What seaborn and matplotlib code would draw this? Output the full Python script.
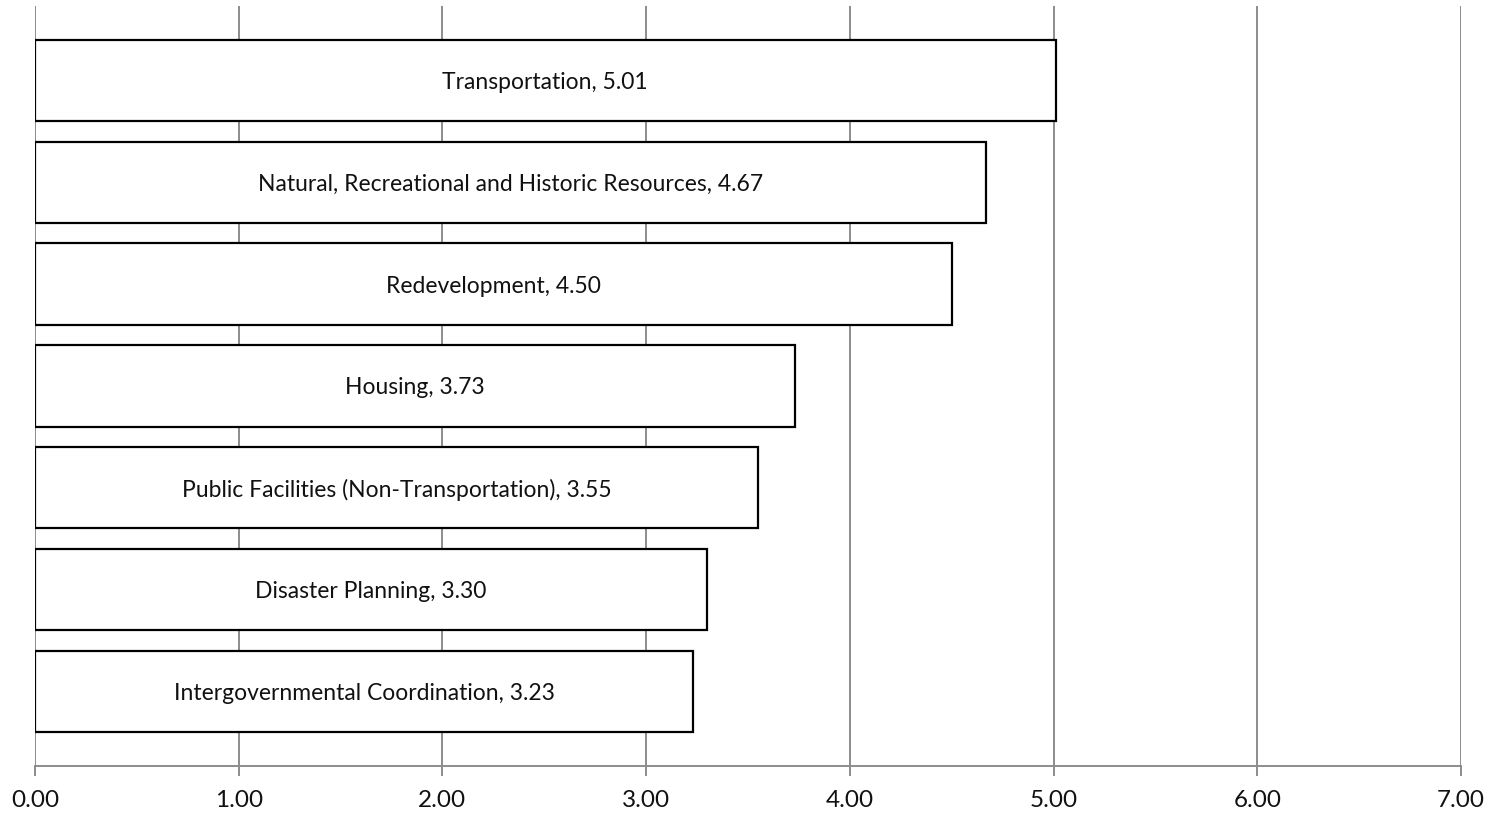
import matplotlib
matplotlib.use("Agg")
import matplotlib.pyplot as plt
import seaborn as sns
import pandas as pd

categories = [
    "Transportation",
    "Natural, Recreational and Historic Resources",
    "Redevelopment",
    "Housing",
    "Public Facilities (Non-Transportation)",
    "Disaster Planning",
    "Intergovernmental Coordination",
]
scores = [5.01, 4.67, 4.50, 3.73, 3.55, 3.30, 3.23]
x_ticks = [0, 1, 2, 3, 4, 5, 6, 7]

df = pd.DataFrame({"category": categories, "score": scores})

sns.set_theme(style="white")
plt.rcParams["font.family"] = ["Lato", "DejaVu Sans"]

W, H = 1493, 813
fig = plt.figure(figsize=(W / 100, H / 100), dpi=100)
ax = fig.add_axes([35 / W, (H - 766) / H, (1461 - 35) / W, (766 - 6) / H])

grid_color = "#8c8c8c"
for t in x_ticks:
    ax.axvline(t, color=grid_color, lw=1.4, zorder=0)

sns.barplot(data=df, x="score", y="category", orient="h", color="white",
            edgecolor="black", linewidth=1.6, width=0.8, ax=ax, zorder=2)

for i, (cat, val) in enumerate(zip(categories, scores)):
    ax.text(val / 2, i + 0.02, f"{cat}, {val:.2f}", ha="center", va="center",
            fontsize=16.5, color="#111111", zorder=3)

ax.set_xlim(0, 7)
ax.set_ylim(6.734, -0.732)
ax.set_xticks(x_ticks)
ax.set_xticklabels([f"{t:.2f}" for t in x_ticks], fontsize=17.5, color="#111111")
ax.set_yticks([])
ax.set_xlabel("")
ax.set_ylabel("")
for side in ["top", "right", "left"]:
    ax.spines[side].set_visible(False)
ax.spines["bottom"].set_color(grid_color)
ax.spines["bottom"].set_linewidth(1.4)
ax.tick_params(axis="x", bottom=True, length=7, width=1.4, color=grid_color, pad=10)

fig.savefig("out.png", dpi=100)
